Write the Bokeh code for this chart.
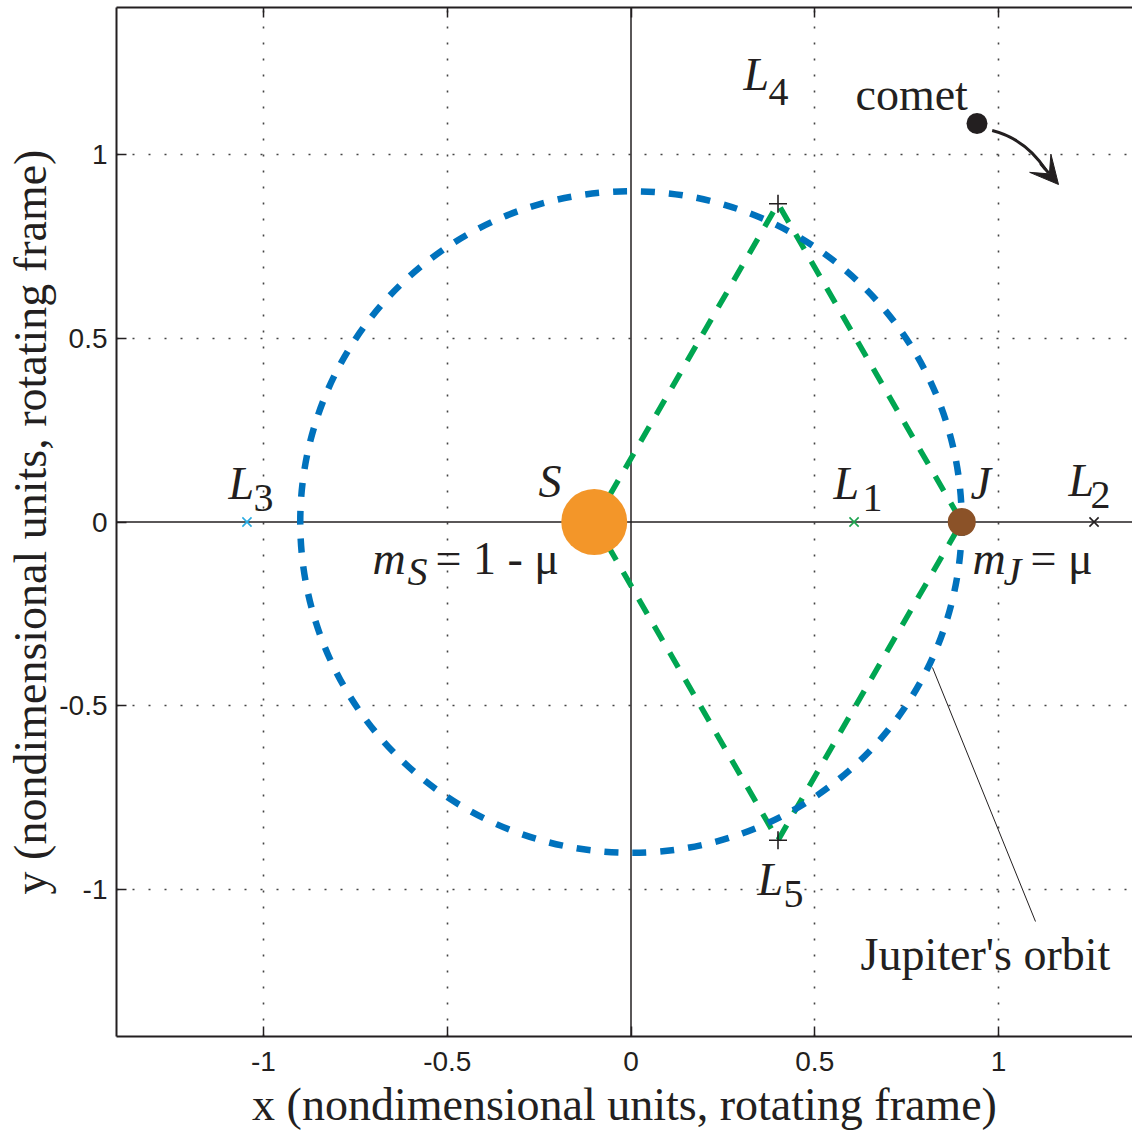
from bokeh.plotting import figure
from bokeh.models import Range1d, FixedTicker, Span, Label, LinearAxis, Arrow, VeeHead
from bokeh.embed import file_html
from bokeh.resources import INLINE

# ---------------- data ----------------
sun_x, sun_y = -0.1, 0.0          # m_S = 1 - mu
jup_x, jup_y = 0.9, 0.0           # m_J = mu
orbit_radius = 0.9
lagr_names = ["1", "2", "3", "4", "5"]
lagr_x = [0.607, 1.26, -1.045, 0.4, 0.4]
lagr_y = [0.0, 0.0, 0.0, 0.866, -0.866]
comet_x, comet_y = 0.9415, 1.0844
tick_values = [-1, -0.5, 0, 0.5, 1]
tick_labels = ["-1", "-0.5", "0", "0.5", "1"]
grid_values = [-1, -0.5, 0.5, 1]
x_title = "x (nondimensional units, rotating frame)"
y_title = "y (nondimensional units, rotating frame)"

# annotation anchors (data units, text baseline)
lbl_L_pos = [(0.551, 0.0667), (1.1905, 0.0748), (-1.0952, 0.0667), (0.3061, 1.1796), (0.3442, -1.0109)]
lbl_sub_pos = [(0.6299, 0.0259), (1.2503, 0.0367), (-1.0272, 0.0259), (0.3741, 1.1333), (0.4150, -1.0517)]
orbit_ptr_x = [0.8204, 1.1007]
orbit_ptr_y = [-0.3959, -1.0871]
arrow_curve = dict(x0=0.9828, y0=1.0653, cx=1.0735, cy=1.0422, x1=1.1279, y1=0.9592)
arrow_head = dict(x_start=1.1143, y_start=0.9755, x_end=1.1633, y_end=0.9184)

INK = "#231F20"
SERIF = "Liberation Serif"
SANS = "Liberation Sans"
BLUE = "#0072BD"
GREEN = "#00A651"
BASE_SHIFT = 14 / 367.5   # calibration: Bokeh draws 'alphabetic' labels ~14px low

x0 = -1.4
p = figure(frame_width=1016, frame_height=1029,
           x_range=Range1d(x0, x0 + 1016 / 367.5), y_range=Range1d(-1.4, 1.4),
           output_backend="svg", toolbar_location=None,
           min_border_left=116, min_border_right=0, min_border_top=7, min_border_bottom=95,
           outline_line_color=None, background_fill_color="white", border_fill_color="white")

for ax in [p.below[0], p.left[0]]:
    ax.ticker = FixedTicker(ticks=tick_values)
    ax.major_label_overrides = dict(zip(tick_values, tick_labels))
    ax.major_tick_in = 10
    ax.major_tick_out = 0
    ax.minor_tick_line_color = None
    ax.axis_line_width = 2
    ax.axis_line_color = INK
    ax.major_tick_line_width = 1.5
    ax.major_tick_line_color = INK
    ax.major_label_text_font = SANS
    ax.major_label_text_font_size = "28px"
    ax.major_label_text_color = INK
    ax.axis_label_text_font = SERIF
    ax.axis_label_text_font_size = "46px"
    ax.axis_label_text_font_style = "normal"
    ax.axis_label_text_color = INK
p.below[0].major_label_standoff = 15
p.below[0].axis_label_standoff = 5
p.left[0].major_label_standoff = 9
p.left[0].axis_label_standoff = 0
p.below[0].axis_label = x_title
p.left[0].axis_label = y_title

top = LinearAxis(ticker=FixedTicker(ticks=tick_values), major_label_text_font_size="1px",
                 major_label_text_color=None,
                 major_label_standoff=0, major_tick_in=10, major_tick_out=0,
                 minor_tick_line_color=None, axis_line_width=2, axis_line_color=INK,
                 major_tick_line_width=1.5, major_tick_line_color=INK)
p.add_layout(top, "above")

for g in [p.xgrid[0], p.ygrid[0]]:
    g.ticker = FixedTicker(ticks=grid_values)
    g.grid_line_color = "#444444"
    g.grid_line_width = 1.6
    g.grid_line_dash = "2 14"

p.add_layout(Span(location=0, dimension="height", line_color=INK, line_width=1.5, level="underlay"))
p.add_layout(Span(location=0, dimension="width", line_color=INK, line_width=1.5, level="underlay"))

# equilateral triangles S-L4-J-L5
tri_x = [sun_x, lagr_x[3], jup_x, lagr_x[4], sun_x]
tri_y = [sun_y, lagr_y[3], jup_y, lagr_y[4], sun_y]
p.line(tri_x, tri_y, line_color=GREEN, line_width=5.5, line_dash="17 14")

# Jupiter's orbit
p.circle(x=[0], y=[0], radius=orbit_radius, fill_color=None, line_color=BLUE,
         line_width=6.5, line_dash="14 14")

# Lagrange points
p.scatter(lagr_x[:3], lagr_y[:3], marker="x", size=13, line_width=1.6,
          line_color=["#1BA34D", INK, "#29ABE2"])
p.scatter(lagr_x[3:], lagr_y[3:], marker="cross", size=18, line_width=1.6, line_color=INK)

# bodies
p.scatter([sun_x], [sun_y], size=66, fill_color="#F39629", line_color=None)
p.scatter([jup_x], [jup_y], size=28, fill_color="#8B5228", line_color=None)
p.scatter([comet_x], [comet_y], size=21, fill_color=INK, line_color=None)

# comet arrow
p.quadratic(line_color=INK, line_width=3, **arrow_curve)
p.add_layout(Arrow(end=VeeHead(size=28, fill_color=INK, line_color=INK, line_width=1),
                   line_color=INK, line_width=3, **arrow_head))

# pointer to orbit
p.line(orbit_ptr_x, orbit_ptr_y, line_color=INK, line_width=1)


def lab(x, y, text, size=46, style="normal"):
    p.add_layout(Label(x=x, y=y + BASE_SHIFT, text=text, text_font=SERIF, text_font_size=f"{size}px",
                       text_font_style=style, text_color=INK, text_align="left",
                       text_baseline="alphabetic"))


for (lx, ly), (sx, sy), n in zip(lbl_L_pos, lbl_sub_pos, lagr_names):
    lab(lx, ly, "L", style="italic")
    lab(sx, sy, n, size=40)

lab(-0.2517, 0.0721, "S", style="italic")
lab(0.9238, 0.0667, "J", style="italic")
lab(-0.7034, -0.1374, "m", style="italic")
lab(-0.6082, -0.1728, "S", size=40, style="italic")
lab(-0.5320, -0.1374, "= 1 - \u03bc")
lab(0.9293, -0.1374, "m", style="italic")
lab(1.0136, -0.1728, "J", size=40, style="italic")
lab(1.0871, -0.1374, "= \u03bc")
lab(0.6109, 1.1252, "comet")
lab(0.6245, -1.2150, "Jupiter's orbit")

open("out.html", "w").write(file_html(p, INLINE))
